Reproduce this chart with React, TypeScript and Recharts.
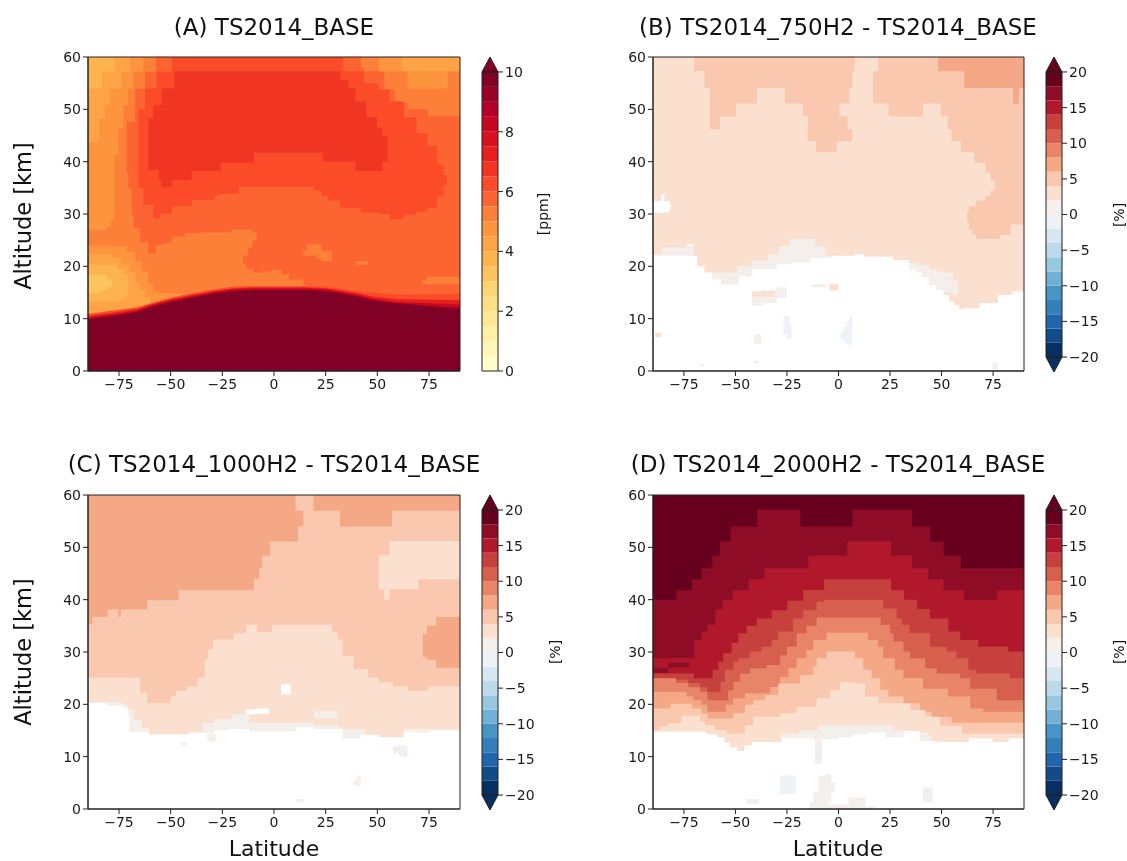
import React from "react";
import { ComposedChart, Area, XAxis, YAxis, ReferenceArea } from "recharts";

type Row = [number, number, number]; // latitude, low altitude, high altitude
type Layer = { level: number; rows: Row[]; linear?: boolean };

const LAT_TICKS = [-75, -50, -25, 0, 25, 50, 75];
const ALT_TICKS = [0, 10, 20, 30, 40, 50, 60];
const PPM_TICKS = [0, 2, 4, 6, 8, 10];
const PCT_TICKS = [-20, -15, -10, -5, 0, 5, 10, 15, 20];

const PPM_BOUNDS = [0, 0.5, 1, 1.5, 2, 2.5, 3, 3.5, 4, 4.5, 5, 5.5, 6, 6.5, 7, 7.5, 8, 8.5, 9, 9.5, 10];
const PCT_BOUNDS = [-20, -18, -16, -14, -12, -10, -8, -6, -4, -2, 0, 2, 4, 6, 8, 10, 12, 14, 16, 18, 20];

const YLORRD = [
  "#ffffcc", "#fff7b9", "#fff0a7", "#fee895", "#fedf83", "#fed572", "#fec460", "#feb44e", "#fea446", "#fd953f",
  "#fd8038", "#fc6531", "#fb4b29", "#f03623", "#e61f1d", "#d7121f", "#c70722", "#b30026", "#9a0026", "#800026",
];
const RDBU = [
  "#053061", "#134b87", "#2166ac", "#3380ba", "#4695c4", "#70b0d4", "#98c8e0", "#bcdaea", "#d6e7f1", "#ecf2f5",
  "#f5efeb", "#fbe0d0", "#fac8af", "#f4a886", "#e88468", "#d6604d", "#c6413e", "#b2182b", "#8e0c25", "#67001f",
];

/* ── Panel A: mixing ratio in ppm ── */

const aBase: Row[] = [[-90, 0, 60], [90, 0, 60]];
const aK10Low: Row[] = [
  [-90, 9, 60], [-71.3, 9, 38], [-70.5, 9, 34.9], [-68.9, 9, 29.8], [-68, 9, 27.3], [-64.8, 9, 24.7],
  [-60.8, 10, 22.5], [-57.2, 10, 24.1], [-53.5, 10, 24.4], [-49.5, 10, 25.7], [-43, 10, 26.3], [-35, 10, 26.5],
  [-20.5, 10, 27], [-17, 20.5, 27], [-15, 22, 27], [-12.5, 23.5, 27], [-10.5, 25, 26.5], [-8.3, 25, 26.5],
];
const aK10Sliver: Row[] = [
  [-17, 10, 20.5], [-13.5, 10, 19.5], [-10, 10, 18.8], [-6.6, 10, 19], [-1.4, 10, 19.3], [3.8, 10, 18.5],
  [7.3, 10, 17.5], [14.2, 10, 16.5], [16, 10, 16.5],
];
const aK10Up: Row[] = [[-71.3, 47.6, 60], [-67.2, 54, 60], [-62.4, 57.2, 60], [-57.2, 57.2, 60]];
const aK10Right: Row[] = [
  [42, 58, 60], [43.5, 57.3, 60], [53.3, 53.8, 60], [58.5, 51.2, 60], [64.6, 50, 60], [74.5, 48.7, 60], [90, 48.7, 60],
];
const aK10PatchA: Row[] = [[14.2, 22, 23], [16, 22, 24.2], [20.5, 21.5, 24.2], [23, 21, 23], [28, 21, 21.5]];
const aK10PatchB: Row[] = [[39.4, 20.3, 21], [45.5, 20.3, 21]];
const aK10PatchC: Row[] = [[71.5, 16.6, 17.3], [74, 16.6, 18], [90, 16.6, 18]];
const aK9Up: Row[] = [
  [-90, 27, 60], [-81, 27.5, 60], [-79, 29, 60], [-77.3, 41.3, 60], [-75.3, 46.4, 60], [-72.9, 50.8, 60],
  [-70.5, 54, 60], [-68, 57.2, 60], [-63.2, 57.2, 60],
];
const aK9Right: Row[] = [[50.7, 57.3, 60], [64.6, 54, 60], [84, 57.3, 60], [90, 57.3, 60]];
const aK8Up: Row[] = [
  [-90, 43.8, 60], [-84.7, 48.3, 60], [-81.8, 50.8, 60], [-79.4, 54, 60], [-73.7, 57.2, 60], [-69.7, 57.2, 60],
];
const aK8Right: Row[] = [[62, 57.3, 60], [90, 57.3, 60]];
const aK7Up: Row[] = [[-90, 54, 60], [-83.4, 57.2, 60], [-77, 57.2, 60]];
const aK9Lobe: Row[] = [
  [-90, 9, 24], [-77, 9, 23.8], [-71.3, 9, 22.8], [-67.3, 10, 20.9], [-64, 10, 19], [-60.8, 10, 16.5],
  [-58.4, 11, 15.2], [-56, 11, 14.8], [-48, 12, 14.8], [-42, 12, 14.8],
];
const aK8Lobe: Row[] = [
  [-90, 9, 22.4], [-81, 9, 22.4], [-78, 9, 21.7], [-74, 9, 20.3], [-70, 9, 19], [-67, 10, 17],
  [-65, 10, 15.5], [-62.5, 10, 14.2], [-60, 10, 14.2],
];
const aK7Lobe: Row[] = [
  [-90, 13.3, 20.3], [-81, 13.3, 20.3], [-76, 13.5, 19.5], [-73, 14, 18.5], [-71, 15, 17], [-70.3, 15, 17],
];
const aK6Lobe: Row[] = [[-90, 14.9, 18.4], [-84, 15.5, 18.4], [-81, 16, 17.5], [-78.5, 16, 17.5]];
const aK12: Row[] = [
  [-65.6, 35, 50], [-63.2, 31.7, 50], [-62.4, 31.7, 54], [-58.4, 29.2, 54], [-56.8, 29.2, 57.2], [-55.2, 30, 57.2],
  [-49.5, 31.1, 60], [-48.7, 31.5, 60], [-39.8, 32.7, 60], [-28.6, 33.6, 60], [-26, 33.8, 60], [-17, 35.2, 60],
  [19.4, 34.5, 60], [23, 33.5, 60], [26, 32.6, 60], [32, 31.2, 60], [33.5, 31.2, 57.3], [42, 30.3, 57.3],
  [43.5, 30.3, 55], [50.7, 30, 53.8], [56, 29, 51.5], [62.8, 29.9, 48.5], [69, 30.5, 45.5], [74.3, 31.2, 43],
  [79, 33.4, 39.5], [82, 35.5, 37.5], [83.7, 35.5, 37.5],
];
const aK13: Row[] = [
  [-60.8, 38.4, 48.3], [-58.4, 38.4, 50.8], [-55.7, 36.5, 50.8], [-54.4, 35.2, 54], [-49.5, 36.5, 54],
  [-48.2, 36.5, 57.3], [-39.8, 38.2, 57.3], [-25.7, 39.8, 57.3], [-9.7, 41.7, 57.3], [23.8, 40, 57.3],
  [32, 40, 55.5], [36, 40, 54], [39.4, 38.2, 51.5], [44.6, 38.2, 48.5], [49.8, 38.2, 46.5], [52.4, 40, 45], [55, 40, 45],
];
const aRim12: Row[] = [
  [-90, 0, 10.9], [-75, 0, 11.7], [-66, 0, 12.2], [-59, 0, 13], [-50, 0, 14], [-40, 0, 14.8], [-29, 0, 15.6], [-20, 0, 16.1],
  [-10, 0, 16.2], [15, 0, 16.2], [25, 0, 16.1], [33, 0, 15.7], [40, 0, 15.3], [47, 0, 15], [60, 0, 14.6], [90, 0, 14.7],
];
const aRim14: Row[] = [
  [-90, 0, 10.5], [-75, 0, 11.3], [-66, 0, 11.9], [-59, 0, 12.8], [-50, 0, 13.7], [-40, 0, 14.5], [-29, 0, 15.3], [-20, 0, 15.8],
  [-10, 0, 16], [15, 0, 16], [25, 0, 15.8], [33, 0, 15.4], [40, 0, 14.9], [47, 0, 14.3], [60, 0, 13.7], [90, 0, 13.5],
];
const aRim16: Row[] = [
  [-90, 0, 10.2], [-75, 0, 11], [-66, 0, 11.6], [-59, 0, 12.6], [-50, 0, 13.5], [-40, 0, 14.3], [-29, 0, 15.1], [-20, 0, 15.6],
  [-10, 0, 15.8], [15, 0, 15.8], [25, 0, 15.6], [33, 0, 15.1], [40, 0, 14.6], [47, 0, 13.9], [60, 0, 13.2], [90, 0, 12.7],
];
const aDark: Row[] = [
  [-90, 0, 9.9], [-75, 0, 10.7], [-66, 0, 11.3], [-59, 0, 12.3], [-50, 0, 13.2], [-40, 0, 14], [-29, 0, 14.8], [-20, 0, 15.3],
  [-10, 0, 15.5], [15, 0, 15.5], [25, 0, 15.3], [33, 0, 14.8], [40, 0, 14.3], [47, 0, 13.6], [55, 0, 13.1], [65, 0, 12.8],
  [75, 0, 12.4], [90, 0, 12],
];

const PANEL_A: Layer[] = [
  { level: 11, rows: aBase },
  { level: 10, rows: aK10Low }, { level: 10, rows: aK10Sliver }, { level: 10, rows: aK10Up }, { level: 10, rows: aK10Right },
  { level: 9, rows: aK9Up }, { level: 9, rows: aK9Right }, { level: 8, rows: aK8Up }, { level: 8, rows: aK8Right },
  { level: 7, rows: aK7Up }, { level: 9, rows: aK9Lobe }, { level: 8, rows: aK8Lobe }, { level: 7, rows: aK7Lobe },
  { level: 6, rows: aK6Lobe }, { level: 12, rows: aK12 }, { level: 13, rows: aK13 },
  { level: 10, rows: aK10PatchA }, { level: 10, rows: aK10PatchB }, { level: 10, rows: aK10PatchC },
  { level: 12, rows: aRim12, linear: true }, { level: 14, rows: aRim14, linear: true },
  { level: 16, rows: aRim16, linear: true }, { level: 19, rows: aDark, linear: true },
];

/* ── Panel B: 750H2 difference ── */

const bStripLeft: Row[] = [
  [-90, 22, 24], [-68.5, 21, 24], [-65, 19, 24], [-61.5, 17.5, 24], [-57, 16.5, 24], [-48.4, 18, 24], [-42.2, 19.5, 24],
  [-29.9, 20.4, 26], [-22.8, 20.7, 26], [-14, 21.6, 26], [-3.5, 22, 24], [-2, 22, 24],
];
const bMain: Row[] = [
  [-90, 22.3, 60], [-86.1, 23.6, 60], [-73.8, 24.2, 60], [-70.3, 22, 60], [-68.5, 20, 60], [-65, 18.8, 60],
  [-49.2, 20, 60], [-42.2, 21, 60], [-34.3, 22.3, 60], [-29, 23.9, 60], [-23.7, 25.2, 60], [-11.4, 23.9, 60],
  [-6.2, 22, 60], [7.9, 22.3, 60], [12.3, 21.9, 60], [26.4, 21.2, 60], [34.3, 20.6, 60], [37.8, 19, 60],
  [40.4, 18, 60], [44, 16.5, 60], [47.5, 15.5, 60], [51, 14.5, 60], [53.6, 13.3, 60], [56.2, 12.6, 60],
  [58.6, 11.8, 60], [60.6, 12, 60], [68.5, 13, 60], [77.3, 14.5, 60], [84.4, 15.2, 60], [90, 15.2, 60],
];
const bStripRight: Row[] = [
  [34.3, 19.5, 20.6], [37.8, 19, 20.3], [40.4, 18, 20.2], [44, 16.5, 19.5], [47.5, 15.5, 19], [51, 15, 18.8],
  [55.4, 14.6, 17.5], [58, 14.6, 17.5],
];
const bTopLeft: Row[] = [
  [-70, 57.3, 60], [-65, 54.1, 60], [-62.4, 46.2, 60], [-57.5, 48.7, 60], [-49.7, 51.1, 60], [-39.5, 54.1, 60],
  [-26, 51.1, 60], [-17.2, 48.7, 60], [-14.9, 43.9, 60], [-10.9, 41.8, 60], [-0.9, 43.9, 60], [0.4, 51.1, 60],
  [5.3, 54.1, 60], [6.7, 57.3, 60], [7.9, 57.3, 60],
];
const bTopMid: Row[] = [[0.4, 43.9, 48.7], [4.4, 43.9, 46.2], [6.7, 43.9, 46.2]];
const bTopRight: Row[] = [
  [16.7, 51.1, 57.3], [19.3, 51.1, 60], [24.3, 48.7, 60], [41, 51.1, 60], [49.6, 48.7, 60], [53, 46.2, 60],
  [54.8, 43.9, 60], [59.4, 41.8, 60], [65.9, 39.8, 60], [71.2, 37.9, 60], [73.8, 36.4, 60], [75.9, 25.2, 60],
  [78.2, 26, 60], [83.5, 28, 60], [90, 28, 60],
];
const bLobe: Row[] = [
  [62.4, 28.5, 30.5], [63.3, 27, 31.5], [65, 26, 31.5], [66.8, 25.3, 32.6], [68.5, 25.2, 32.6], [71.2, 25.2, 33.5],
  [73.8, 25.2, 34.5], [75.9, 25.2, 34.5],
];
const bCap: Row[] = [[48.3, 57.3, 60], [61, 54.1, 60], [84.7, 51.1, 60], [87.5, 54.1, 60], [90, 54.1, 60]];
const bHole: Row[] = [[-90, 30.3, 32.5], [-85.8, 30.3, 33.8], [-84.5, 30.3, 32.5], [-82, 31, 32], [-81.5, 31, 32]];
const bSpotA: Row[] = [[-42, 12.5, 15], [-37, 13, 15.5], [-30, 14, 16], [-25, 14, 16]];
const bSpotB: Row[] = [[-42, 14.2, 15.2], [-31, 14.2, 15.2]];
const bSpotC: Row[] = [[-13, 16, 16.6], [-6, 16, 16.6]];
const bSpotD: Row[] = [[-4.4, 15.4, 16.6], [0, 15.4, 16.6]];
const bSpotE: Row[] = [[-41, 5.2, 7], [-37.5, 5.2, 7]];
const bSpotF: Row[] = [[-89, 6.5, 7.3], [-86, 6.5, 7.3]];
const bSpotG: Row[] = [[-41, 1.4, 2], [-38.5, 1.4, 2]];
const bSpotH: Row[] = [[-67.5, 0.9, 1.3], [-65, 0.9, 1.3]];
const bBlueA: Row[] = [[-26.7, 7, 10.5], [-25, 6.2, 10.3], [-23.5, 6, 9], [-22.8, 6, 9]];
const bBlueB: Row[] = [[1, 6, 7.5], [2.5, 5.5, 8.5], [4, 5, 9.5], [5.5, 5, 10.5], [6.7, 5, 10.5]];
const bBlueC: Row[] = [[74.7, 0, 1.6], [77.3, 0, 1.6]];

const PANEL_B: Layer[] = [
  { level: 10, rows: bStripLeft }, { level: 11, rows: bMain }, { level: 10, rows: bStripRight },
  { level: 12, rows: bTopLeft }, { level: 12, rows: bTopMid }, { level: 12, rows: bTopRight }, { level: 12, rows: bLobe },
  { level: 13, rows: bCap }, { level: -1, rows: bHole },
  { level: 10, rows: bSpotA }, { level: 11, rows: bSpotB }, { level: 10, rows: bSpotC }, { level: 11, rows: bSpotD },
  { level: 10, rows: bSpotE }, { level: 11, rows: bSpotF }, { level: 10, rows: bSpotG }, { level: 10, rows: bSpotH },
  { level: 9, rows: bBlueA }, { level: 9, rows: bBlueB }, { level: 9, rows: bBlueC },
];

/* ── Panel C: 1000H2 difference ── */

const cStrip: Row[] = [
  [-90, 20.3, 21], [-81.3, 19.8, 21], [-73.4, 19.4, 21], [-70.8, 18, 21], [-70, 14.7, 21], [-60.4, 14.3, 21],
  [-41.3, 14.5, 21], [-29, 15, 21], [-22, 15.3, 21], [-12, 14.8, 21], [10.8, 15.6, 21], [19.4, 15.3, 21],
  [33.3, 13.4, 21], [42, 14.3, 21], [50.7, 13.9, 21], [62.8, 14.6, 21], [75, 15, 21], [90, 15, 21],
];
const cLow: Row[] = [
  [-90, 20.4, 60], [-73.4, 20, 60], [-70.8, 19, 60], [-68, 17, 60], [-64, 15.5, 60], [-60.4, 14.3, 60],
  [-41.3, 14.8, 60], [-34.4, 16.5, 60], [-29, 17.2, 60], [-20.5, 18.1, 60], [-13.5, 18.8, 60], [-12, 16.5, 60],
  [19.4, 16, 60], [31, 15.5, 60], [33.3, 15.3, 60], [43.8, 14.2, 60], [50.7, 13.7, 60], [62.8, 15.3, 60], [90, 15.3, 60],
];
const cMid: Row[] = [
  [-90, 25.1, 60], [-70, 25.1, 60], [-64.8, 22.2, 60], [-61.3, 20.2, 60], [-53.8, 20.2, 60], [-50, 21.6, 60],
  [-47.4, 22.6, 60], [-42.2, 23.4, 60], [-37, 25.1, 60], [-33.5, 28.6, 60], [-31.8, 30.5, 60], [-29.5, 32.4, 60],
  [-19.6, 33.6, 60], [-13.5, 35.2, 60], [-8.3, 33.8, 60], [-0.9, 35.2, 60], [28.1, 33.8, 60], [30.7, 32.4, 60],
  [33.3, 29.2, 60], [38.5, 26.7, 60], [45.5, 25.1, 60], [50.7, 24.2, 60], [57.6, 23.4, 60], [64.6, 22.6, 60],
  [74.7, 23.4, 60], [90, 23.4, 60],
];
const cPaleRight: Row[] = [[50.7, 42, 48.5], [53.3, 40, 48.5], [55.9, 42, 51.2], [69.8, 43.9, 51.2], [90, 43.9, 51.2]];
const cHighLeft: Row[] = [
  [-90, 35.3, 60], [-87.9, 36.7, 60], [-80.5, 38.1, 60], [-75.3, 36.7, 60], [-74.1, 38.1, 60], [-61.3, 39.9, 60],
  [-46.2, 41.8, 60], [-9.7, 43.9, 60], [-7.1, 46, 60], [-5.7, 48.4, 60], [-1.9, 51.1, 60], [10.4, 51.1, 57],
  [11.6, 54, 57], [14.2, 54, 57],
];
const cHighRight: Row[] = [[19.1, 57, 60], [31.9, 54, 60], [57.1, 57, 60], [90, 57, 60]];
const cLobe: Row[] = [[72, 29, 33.5], [74, 28.5, 35], [78.5, 27, 36.7], [90, 27, 36.7]];
const cHoleA: Row[] = [[3.5, 21.9, 23.8], [8, 21.9, 23.8]];
const cHoleB: Row[] = [[-13.5, 18.1, 19], [-8, 18.2, 19.2], [-2.3, 18.2, 19.2]];
const cPatch: Row[] = [[19.4, 17.3, 18.7], [30.7, 17.3, 18.7]];
const cSpotA: Row[] = [[-44.8, 12.2, 12.8], [-42.2, 12.2, 12.8]];
const cSpotB: Row[] = [[-32.3, 12.9, 14.4], [-28.3, 12.9, 14.4]];
const cSpotC: Row[] = [[57.6, 10.6, 12], [60.5, 10, 12.2], [64.6, 10, 12.2]];
const cSpotD: Row[] = [[38.5, 4.5, 5.6], [40, 4.5, 6.4], [42, 4.5, 6.4]];
const cSpotE: Row[] = [[10.8, 1.3, 1.9], [14.2, 1.3, 1.9]];

const PANEL_C: Layer[] = [
  { level: 10, rows: cStrip }, { level: 11, rows: cLow }, { level: 12, rows: cMid }, { level: 11, rows: cPaleRight },
  { level: 13, rows: cHighLeft }, { level: 13, rows: cHighRight }, { level: 13, rows: cLobe },
  { level: -1, rows: cHoleA }, { level: -1, rows: cHoleB }, { level: 10, rows: cPatch },
  { level: 10, rows: cSpotA }, { level: 10, rows: cSpotB }, { level: 10, rows: cSpotC }, { level: 10, rows: cSpotD }, { level: 10, rows: cSpotE },
];

/* ── Panel D: 2000H2 difference ── */

const dBase: Row[] = [[-90, 0, 60], [90, 0, 60]];
const d18: Row[] = [
  [-90, 0, 40], [-78.7, 0, 41.8], [-71.2, 0, 43.9], [-66.4, 0, 46], [-61.2, 0, 48.4], [-57.5, 0, 51.1], [-52.4, 0, 54],
  [-39.5, 0, 57.2], [-18.5, 0, 54], [6.7, 0, 57.2], [35.7, 0, 54], [44.5, 0, 51.1], [51, 0, 48.4], [59.4, 0, 46], [90, 0, 46],
];
const d16: Row[] = [
  [-90, 0, 28.8], [-70, 0, 32.3], [-66.4, 0, 33.9], [-63.6, 0, 35.2], [-59.8, 0, 38.1], [-56.2, 0, 40], [-51.3, 0, 41.8],
  [-43.6, 0, 43.9], [-36, 0, 46], [-14.6, 0, 48.4], [4.2, 0, 51.1], [25.5, 0, 48.4], [35.7, 0, 46], [43.6, 0, 43.9],
  [51, 0, 41.8], [61, 0, 40], [77, 0, 41.8], [90, 0, 41.8],
];
const dPatchA: Row[] = [[-90, 26, 27], [-82.6, 27, 28], [-72.4, 27, 28]];
const d14: Row[] = [
  [-90, 0, 25.9], [-70.1, 0, 25], [-61, 0, 26.6], [-58.3, 0, 28.15], [-55.9, 0, 29.75], [-51.9, 0, 31.7],
  [-48.6, 0, 33.6], [-44.6, 0, 35], [-39.7, 0, 36.4], [-32.4, 0, 38], [-24.8, 0, 39.8], [-17.1, 0, 41.85], [-7, 0, 43.9],
  [25.5, 0, 41.8], [31.8, 0, 40], [38.2, 0, 38.2], [44.4, 0, 36.4], [53.3, 0, 33.9], [59, 0, 32.3], [67.8, 0, 31],
  [82.4, 0, 30.1], [90, 0, 30.1],
];
const d12: Row[] = [
  [-90, 0, 25], [-78.8, 0, 24.7], [-72.9, 0, 24.1], [-67.2, 0, 23.25], [-63.6, 0, 22.4], [-57.2, 0, 24.3], [-55.1, 0, 26.6],
  [-51, 0, 28.15], [-48.6, 0, 28.8], [-43, 0, 30.1], [-37.3, 0, 31], [-32.4, 0, 32.3], [-29.2, 0, 33.9], [-22, 0, 36.4],
  [-17.1, 0, 38], [-10.6, 0, 39.6], [-7, 0, 40], [21.7, 0, 38.3], [28.2, 0, 36.4], [30.7, 0, 35.2], [34.4, 0, 33.6],
  [44.4, 0, 31], [52.5, 0, 30.1], [57.3, 0, 28.8], [63, 0, 26.6], [67, 0, 25.9], [83.2, 0, 25], [90, 0, 25],
];
const d10: Row[] = [
  [-90, 0, 25], [-78.8, 0, 24.1], [-72.9, 0, 23.25], [-67.2, 0, 22.4], [-63.6, 0, 20.8], [-53.5, 0, 22.7], [-51, 0, 24.3],
  [-47.8, 0, 25.9], [-43, 0, 26.9], [-35, 0, 27.5], [-28.4, 0, 29.4], [-25, 0, 31], [-20.3, 0, 33.6], [-15.5, 0, 35],
  [-10.6, 0, 36.6], [20.5, 0, 35.2], [25, 0, 33.6], [26.7, 0, 32], [31.5, 0, 30.1], [34.8, 0, 28.8], [42, 0, 26.9],
  [47.7, 0, 25.9], [59, 0, 25], [63.9, 0, 23], [76.8, 0, 20.8], [90, 0, 20.8],
];
const d8: Row[] = [
  [-90, 0, 22.4], [-73.7, 0, 21.5], [-70.4, 0, 20.8], [-66.4, 0, 19.9], [-63.6, 0, 18.6], [-54.6, 0, 19.9], [-51, 0, 21.15],
  [-45.4, 0, 22.1], [-38, 0, 22.1], [-33.2, 0, 23.3], [-28.4, 0, 25.2], [-24.3, 0, 26.9], [-20.3, 0, 28.8], [-15.5, 0, 30.4],
  [-12.2, 0, 32.3], [-5.8, 0, 33.7], [14.4, 0, 32.3], [19.2, 0, 31], [21.7, 0, 28.8], [27.3, 0, 26.6], [31.5, 0, 25],
  [41, 0, 23], [53.2, 0, 21.5], [63.9, 0, 19.2], [70.3, 0, 18.6], [90, 0, 18.6],
];
const d6: Row[] = [
  [-90, 0, 19.2], [-81.4, 0, 20.1], [-71.2, 0, 19.2], [-66.4, 0, 18.3], [-63.6, 0, 17.3], [-51, 0, 18.3], [-45.4, 0, 19.9],
  [-41.3, 0, 20.8], [-35.7, 0, 21.8], [-29.2, 0, 24], [-18.7, 0, 25.6], [-12.2, 0, 27.2], [-10.6, 0, 28.8], [-5.8, 0, 30.1],
  [8, 0, 28.8], [12, 0, 26.6], [16.1, 0, 25], [20.2, 0, 22.8], [24.2, 0, 21.5], [31.5, 0, 20.2], [39.6, 0, 18.6],
  [45.2, 0, 17.6], [54.9, 0, 16.5], [90, 0, 16.5],
];
const d4: Row[] = [
  [-90, 0, 15.1], [-86.6, 0, 15.75], [-82.6, 0, 16.4], [-76.1, 0, 17.8], [-67.2, 0, 16.7], [-64.8, 0, 16], [-60, 0, 15.1],
  [-54.3, 0, 14.45], [-45.4, 0, 16], [-41.3, 0, 17.65], [-28.4, 0, 18.3], [-20.3, 0, 19.55], [-10.6, 0, 21.15],
  [-4.1, 0, 22.7], [0.7, 0, 24.2], [8, 0, 24], [12.9, 0, 21.5], [19.4, 0, 20.2], [34.8, 0, 18.9], [42, 0, 17.65],
  [49.3, 0, 15.85], [59.8, 0, 14.45], [90, 0, 14.45],
];
const d2: Row[] = [[-28, 0, 14.4], [-19.3, 0, 15], [-10, 0, 16], [26.6, 0, 15.1], [33, 0, 14.6], [43.6, 0, 14], [45, 0, 14]];
const dClear: Row[] = [
  [-90, 0, 14.75], [-64.1, 0, 14.3], [-58.9, 0, 13.7], [-55.4, 0, 12.7], [-52.7, 0, 11.8], [-49.2, 0, 11.1], [-45.7, 0, 12.1],
  [-42.2, 0, 12.8], [-27.2, 0, 13.5], [-12.3, 0, 13.35], [0, 0, 13.7], [7, 0, 14.3], [14, 0, 14.6], [22.8, 0, 13.7],
  [31.6, 0, 14.9], [39.5, 0, 13], [47.5, 0, 12.8], [63.3, 0, 13.5], [74.7, 0, 12.8], [82.6, 0, 13.5], [90, 0, 13.5],
];
const dStem: Row[] = [[-11.4, 8.6, 13.5], [-8, 8.6, 13.5]];
const dBlob: Row[] = [[-12.3, 1, 3.2], [-9.7, 1, 6.4], [-6, 1.3, 6.7], [-3.5, 3.2, 5], [-1.8, 3.2, 5]];
const dFloor: Row[] = [[-14, 0, 1.5], [-5, 0, 0.8], [5, 0, 2.2], [13, 0, 0.5], [18, 0, 0.5]];
const dBlueA: Row[] = [[-28.5, 2.9, 6.4], [-22.5, 2.9, 6.4], [-20.7, 2.9, 4.5]];
const dSpotA: Row[] = [[41, 1.3, 4.1], [45.7, 1.3, 4.1]];
const dSpotB: Row[] = [[-44.8, 1, 1.9], [-38.7, 1, 1.9]];

const PANEL_D: Layer[] = [
  { level: 19, rows: dBase }, { level: 18, rows: d18 }, { level: 17, rows: d16 }, { level: 18, rows: dPatchA },
  { level: 16, rows: d14 }, { level: 15, rows: d12 }, { level: 14, rows: d10 }, { level: 13, rows: d8 },
  { level: 12, rows: d6 }, { level: 11, rows: d4 }, { level: 10, rows: d2 }, { level: -1, rows: dClear },
  { level: 10, rows: dStem }, { level: 10, rows: dBlob }, { level: 10, rows: dFloor }, { level: 9, rows: dBlueA },
  { level: 10, rows: dSpotA }, { level: 10, rows: dSpotB },
];

const FONT = "'DejaVu Sans', sans-serif";
const AXIS = "#222222";
const TICK = { fontSize: 14, fill: "#1a1a1a", fontFamily: FONT };

const minus = (v: number) => String(v).replace("-", "\u2212");
const toPoints = (rows: Row[]) => rows.map(([lat, lo, hi]) => ({ lat, range: [lo, hi] }));

function Panel({ left, top, width, layers, palette }: { left: number; top: number; width: number; layers: Layer[]; palette: string[] }) {
  return (
    <div style={{ position: "absolute", left, top }}>
      <ComposedChart width={width} height={410} margin={{ top: 57, right: 10, left: 0, bottom: 0 }}>
        <XAxis
          dataKey="lat"
          type="number"
          domain={[-90, 90]}
          ticks={LAT_TICKS}
          interval={0}
          height={39}
          tickSize={5}
          tickMargin={3}
          tick={TICK}
          tickFormatter={minus}
          stroke={AXIS}
        />
        <YAxis type="number" domain={[0, 60]} ticks={ALT_TICKS} interval={0} width={88} tickSize={5} tickMargin={2} tick={TICK} stroke={AXIS} />
        {layers.map((layer, i) => (
          <Area
            key={i}
            data={toPoints(layer.rows)}
            dataKey="range"
            type={layer.linear ? "linear" : "stepAfter"}
            fill={layer.level < 0 ? "#ffffff" : palette[layer.level]}
            fillOpacity={1}
            stroke="none"
            dot={false}
            activeDot={false}
            isAnimationActive={false}
          />
        ))}
        <ReferenceArea x1={-90} x2={90} y1={0} y2={60} fill="none" stroke={AXIS} strokeWidth={1} ifOverflow="visible" />
      </ComposedChart>
    </div>
  );
}

function ColorBar({ left, top, bounds, palette, ticks, tip, plotHeight }: {
  left: number; top: number; bounds: number[]; palette: string[]; ticks: number[]; tip: number; plotHeight: number;
}) {
  const lo = bounds[0];
  const hi = bounds[bounds.length - 1];
  const diverging = lo < 0;
  const capTop: Row[] = [[0, hi, hi], [0.5, hi, hi + tip], [1, hi, hi]];
  const capLow: Row[] = [[0, lo, lo], [0.5, lo - tip, lo], [1, lo, lo]];
  return (
    <div style={{ position: "absolute", left, top }}>
      <ComposedChart width={75} height={plotHeight + 14} margin={{ top: 57, right: 0, left: 7, bottom: 14 }}>
        <XAxis hide dataKey="lat" type="number" domain={[0, 1]} />
        <YAxis
          orientation="right"
          type="number"
          domain={[diverging ? lo - tip : lo, hi + tip]}
          ticks={ticks}
          interval={0}
          width={52}
          tickSize={5}
          tick={TICK}
          tickFormatter={minus}
          stroke={AXIS}
          axisLine={false}
        />
        {palette.map((color, i) => (
          <Area
            key={i}
            data={toPoints([[0, bounds[i], bounds[i + 1]], [1, bounds[i], bounds[i + 1]]])}
            dataKey="range"
            type="linear"
            fill={color}
            fillOpacity={1}
            stroke="none"
            dot={false}
            activeDot={false}
            isAnimationActive={false}
          />
        ))}
        <Area data={toPoints(capTop)} dataKey="range" type="linear" fill={palette[palette.length - 1]} fillOpacity={1} stroke={AXIS} dot={false} activeDot={false} isAnimationActive={false} />
        {diverging && (
          <Area data={toPoints(capLow)} dataKey="range" type="linear" fill={palette[0]} fillOpacity={1} stroke={AXIS} dot={false} activeDot={false} isAnimationActive={false} />
        )}
        <ReferenceArea x1={0} x2={1} y1={lo} y2={hi} fill="none" stroke={AXIS} strokeWidth={1} ifOverflow="visible" />
      </ComposedChart>
    </div>
  );
}

function Caption({ x, y, size, rotate, children }: { x: number; y: number; size: number; rotate?: boolean; children: React.ReactNode }) {
  return (
    <div
      style={{
        position: "absolute",
        left: x,
        top: y,
        transform: `translate(-50%, -50%)${rotate ? " rotate(-90deg)" : ""}`,
        fontFamily: FONT,
        fontSize: size,
        color: "#111",
        whiteSpace: "nowrap",
        lineHeight: 1,
      }}
    >
      {children}
    </div>
  );
}

export default function App() {
  return (
    <div style={{ position: "absolute", left: 0, top: 0, width: 1127, height: 861, background: "#fff", overflow: "hidden", filter: "blur(0.5px)" }}>
      <Panel left={0} top={0} width={470} layers={PANEL_A} palette={YLORRD} />
      <Panel left={565} top={0} width={469} layers={PANEL_B} palette={RDBU} />
      <Panel left={0} top={438} width={470} layers={PANEL_C} palette={RDBU} />
      <Panel left={565} top={438} width={469} layers={PANEL_D} palette={RDBU} />

      <ColorBar left={475} top={0} bounds={PPM_BOUNDS} palette={YLORRD} ticks={PPM_TICKS} tip={0.5} plotHeight={371} />
      <ColorBar left={1039} top={0} bounds={PCT_BOUNDS} palette={RDBU} ticks={PCT_TICKS} tip={2.1} plotHeight={372} />
      <ColorBar left={475} top={438} bounds={PCT_BOUNDS} palette={RDBU} ticks={PCT_TICKS} tip={2.1} plotHeight={372} />
      <ColorBar left={1039} top={438} bounds={PCT_BOUNDS} palette={RDBU} ticks={PCT_TICKS} tip={2.1} plotHeight={372} />

      <Caption x={274} y={27} size={23}>(A) TS2014_BASE</Caption>
      <Caption x={838} y={27} size={23}>(B) TS2014_750H2 - TS2014_BASE</Caption>
      <Caption x={274} y={464} size={23}>(C) TS2014_1000H2 - TS2014_BASE</Caption>
      <Caption x={838} y={464} size={23}>(D) TS2014_2000H2 - TS2014_BASE</Caption>

      <Caption x={23} y={216} size={22.5} rotate>Altitude [km]</Caption>
      <Caption x={23} y={652} size={22.5} rotate>Altitude [km]</Caption>
      <Caption x={274} y={849} size={22}>Latitude</Caption>
      <Caption x={838} y={849} size={22}>Latitude</Caption>

      <Caption x={543} y={214} size={14} rotate>[ppm]</Caption>
      <Caption x={1119} y={215} size={14} rotate>[%]</Caption>
      <Caption x={555} y={652} size={14} rotate>[%]</Caption>
      <Caption x={1119} y={652} size={14} rotate>[%]</Caption>
    </div>
  );
}
